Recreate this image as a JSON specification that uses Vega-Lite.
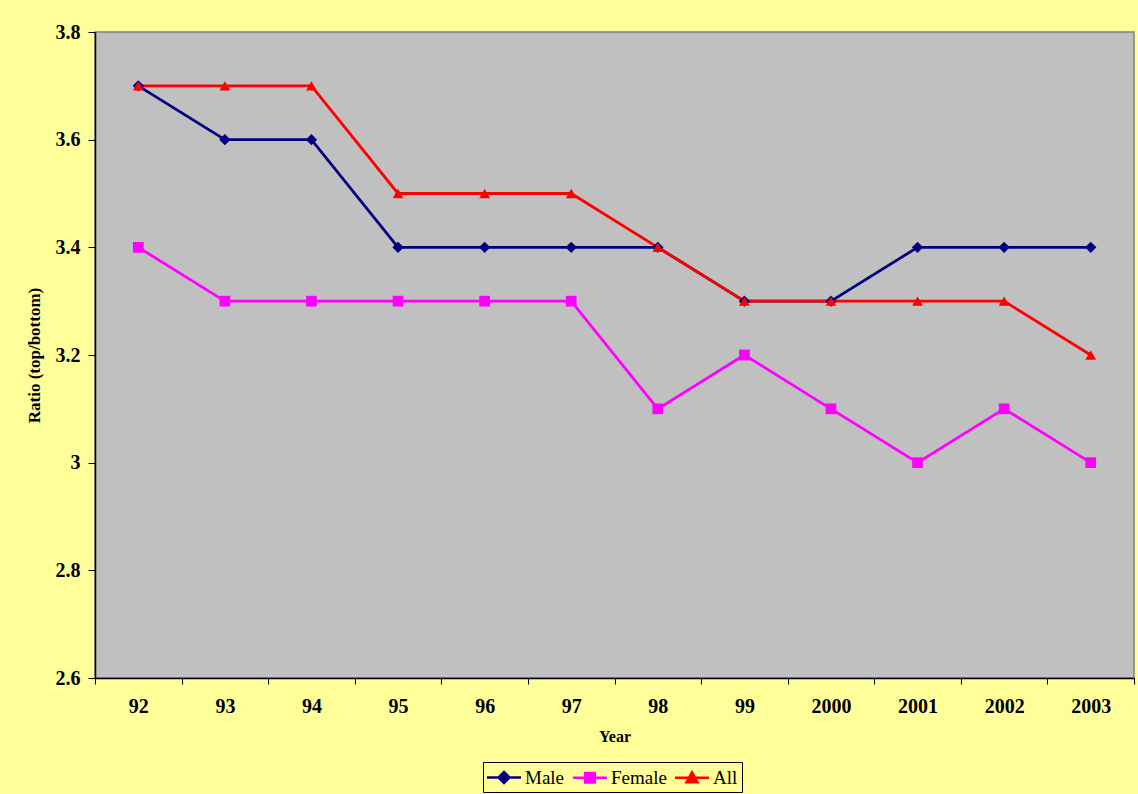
{
  "$schema": "https://vega.github.io/schema/vega-lite/v6.json",
  "autosize": {"type": "none"},
  "padding": {"left": 95, "top": 32, "right": 4, "bottom": 116},
  "width": 1039,
  "height": 646,
  "background": "#FFFF99",
  "config": {
    "view": {"fill": "#C0C0C0", "stroke": "#808080", "strokeWidth": 1.5},
    "font": "Liberation Serif"
  },
  "data": {
    "values": [
      {"year": "92", "group": "Male", "ratio": 3.7},
      {"year": "93", "group": "Male", "ratio": 3.6},
      {"year": "94", "group": "Male", "ratio": 3.6},
      {"year": "95", "group": "Male", "ratio": 3.4},
      {"year": "96", "group": "Male", "ratio": 3.4},
      {"year": "97", "group": "Male", "ratio": 3.4},
      {"year": "98", "group": "Male", "ratio": 3.4},
      {"year": "99", "group": "Male", "ratio": 3.3},
      {"year": "2000", "group": "Male", "ratio": 3.3},
      {"year": "2001", "group": "Male", "ratio": 3.4},
      {"year": "2002", "group": "Male", "ratio": 3.4},
      {"year": "2003", "group": "Male", "ratio": 3.4},
      {"year": "92", "group": "Female", "ratio": 3.4},
      {"year": "93", "group": "Female", "ratio": 3.3},
      {"year": "94", "group": "Female", "ratio": 3.3},
      {"year": "95", "group": "Female", "ratio": 3.3},
      {"year": "96", "group": "Female", "ratio": 3.3},
      {"year": "97", "group": "Female", "ratio": 3.3},
      {"year": "98", "group": "Female", "ratio": 3.1},
      {"year": "99", "group": "Female", "ratio": 3.2},
      {"year": "2000", "group": "Female", "ratio": 3.1},
      {"year": "2001", "group": "Female", "ratio": 3.0},
      {"year": "2002", "group": "Female", "ratio": 3.1},
      {"year": "2003", "group": "Female", "ratio": 3.0},
      {"year": "92", "group": "All", "ratio": 3.7},
      {"year": "93", "group": "All", "ratio": 3.7},
      {"year": "94", "group": "All", "ratio": 3.7},
      {"year": "95", "group": "All", "ratio": 3.5},
      {"year": "96", "group": "All", "ratio": 3.5},
      {"year": "97", "group": "All", "ratio": 3.5},
      {"year": "98", "group": "All", "ratio": 3.4},
      {"year": "99", "group": "All", "ratio": 3.3},
      {"year": "2000", "group": "All", "ratio": 3.3},
      {"year": "2001", "group": "All", "ratio": 3.3},
      {"year": "2002", "group": "All", "ratio": 3.3},
      {"year": "2003", "group": "All", "ratio": 3.2}
    ]
  },
  "encoding": {
    "x": {
      "field": "year",
      "type": "nominal",
      "sort": null,
      "scale": {"type": "band", "paddingInner": 0, "paddingOuter": 0},
      "axis": {
        "title": "Year",
        "titleFont": "Liberation Serif",
        "titleFontSize": 16,
        "titleFontWeight": "bold",
        "titleColor": "black",
        "titlePadding": 12,
        "labelAngle": 0,
        "labelFont": "Liberation Serif",
        "labelFontSize": 20,
        "labelFontWeight": "bold",
        "labelColor": "black",
        "labelPadding": 12,
        "tickBand": "extent",
        "tickSize": 6,
        "tickColor": "black",
        "domainColor": "black",
        "domainWidth": 1.5,
        "grid": false
      }
    },
    "y": {
      "field": "ratio",
      "type": "quantitative",
      "scale": {"domain": [2.6, 3.8], "zero": false, "nice": false},
      "axis": {
        "title": "Ratio (top/bottom)",
        "titleFont": "Liberation Serif",
        "titleFontSize": 17,
        "titleFontWeight": "bold",
        "titleColor": "black",
        "titlePadding": 12,
        "values": [2.6, 2.8, 3.0, 3.2, 3.4, 3.6, 3.8],
        "format": "~g",
        "labelFont": "Liberation Serif",
        "labelFontSize": 20,
        "labelFontWeight": "bold",
        "labelColor": "black",
        "labelPadding": 8,
        "tickSize": 7,
        "tickColor": "black",
        "domainColor": "black",
        "domainWidth": 1.5,
        "grid": false
      }
    },
    "color": {
      "field": "group",
      "type": "nominal",
      "scale": {"domain": ["Male", "Female", "All"], "range": ["#000080", "#FF00FF", "#FF0000"]},
      "legend": {
        "title": null,
        "orient": "none",
        "legendX": 388,
        "legendY": 730,
        "direction": "horizontal",
        "padding": 4,
        "strokeColor": "black",
        "fillColor": "#FFFF99",
        "labelFont": "Liberation Serif",
        "labelFontSize": 19,
        "labelColor": "black",
        "labelOffset": 15,
        "columnPadding": 3,
        "symbolSize": 400,
        "encode": {
          "symbols": {
            "update": {
              "shape": {"signal": "datum.value === 'Male' ? 'M-1.7,0H1.7M0,-0.55L0.55,0L0,0.55L-0.55,0Z' : datum.value === 'Female' ? 'M-1.7,0H1.7M-0.48,-0.48H0.48V0.48H-0.48Z' : 'M-1.7,0H1.7M0,-0.55L0.55,0.45H-0.55Z'"},
              "x": {"value": 17},
              "fill": {"scale": "color", "field": "value"},
              "stroke": {"scale": "color", "field": "value"},
              "strokeWidth": {"value": 2.5},
              "opacity": {"value": 1}
            }
          }
        }
      }
    }
  },
  "layer": [
    {
      "mark": {"type": "line", "strokeWidth": 2.8}
    },
    {
      "transform": [{"filter": "datum.group === 'Male'"}],
      "mark": {"type": "point", "shape": "diamond", "filled": true, "opacity": 1, "size": 130}
    },
    {
      "transform": [{"filter": "datum.group === 'Female'"}],
      "mark": {"type": "point", "shape": "square", "filled": true, "opacity": 1, "size": 115}
    },
    {
      "transform": [{"filter": "datum.group === 'All'"}],
      "mark": {"type": "point", "shape": "triangle-up", "filled": true, "opacity": 1, "size": 115}
    }
  ]
}
